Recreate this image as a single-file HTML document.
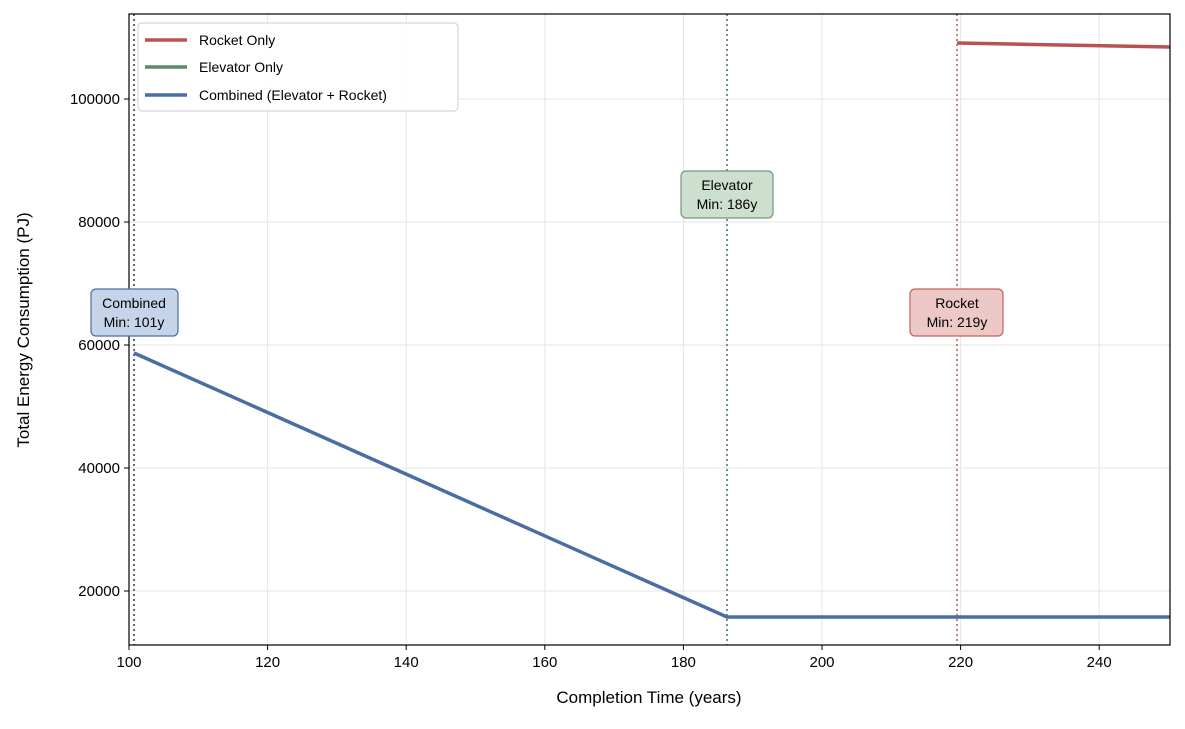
<!DOCTYPE html>
<html><head><meta charset="utf-8"><style>
body{margin:0;background:#fff}
text{font-family:"Liberation Sans","DejaVu Sans",sans-serif}
</style></head><body>
<svg width="1185" height="724" xmlns="http://www.w3.org/2000/svg">
<rect width="1185" height="724" fill="#fff"/>
<g stroke="#e6e6e6" stroke-width="1">
<line x1="129" y1="14" x2="129" y2="645"/><line x1="267.6" y1="14" x2="267.6" y2="645"/><line x1="406.2" y1="14" x2="406.2" y2="645"/><line x1="544.8" y1="14" x2="544.8" y2="645"/><line x1="683.4" y1="14" x2="683.4" y2="645"/><line x1="822" y1="14" x2="822" y2="645"/><line x1="960.6" y1="14" x2="960.6" y2="645"/><line x1="1099.2" y1="14" x2="1099.2" y2="645"/>
<line x1="129" y1="591" x2="1170" y2="591"/><line x1="129" y1="468" x2="1170" y2="468"/><line x1="129" y1="345" x2="1170" y2="345"/><line x1="129" y1="222" x2="1170" y2="222"/><line x1="129" y1="99" x2="1170" y2="99"/>
</g>
<g stroke-width="2" stroke-dasharray="2,3">
<line x1="134" y1="14" x2="134" y2="645" stroke="#5a6a85"/>
<line x1="727" y1="14" x2="727" y2="645" stroke="#6f9a78"/>
<line x1="957" y1="14" x2="957" y2="645" stroke="#c4837f"/>
</g>
<polyline points="134,353 727,617 1170,617" fill="none" stroke="#4a6ea3" stroke-width="3.5"/>
<polyline points="957,43 1060,45 1170,47" fill="none" stroke="#b9524f" stroke-width="3.5"/>
<rect x="129" y="14" width="1041" height="631" fill="none" stroke="#000" stroke-width="1.2"/>
<g stroke="#000"><line x1="129" y1="645" x2="129" y2="650"/><line x1="267.6" y1="645" x2="267.6" y2="650"/><line x1="406.2" y1="645" x2="406.2" y2="650"/><line x1="544.8" y1="645" x2="544.8" y2="650"/><line x1="683.4" y1="645" x2="683.4" y2="650"/><line x1="822" y1="645" x2="822" y2="650"/><line x1="960.6" y1="645" x2="960.6" y2="650"/><line x1="1099.2" y1="645" x2="1099.2" y2="650"/>
<line x1="124" y1="591" x2="129" y2="591"/><line x1="124" y1="468" x2="129" y2="468"/><line x1="124" y1="345" x2="129" y2="345"/><line x1="124" y1="222" x2="129" y2="222"/><line x1="124" y1="99" x2="129" y2="99"/></g>
<g font-size="15" text-anchor="middle" fill="#000">
<text x="129" y="667">100</text><text x="267.6" y="667">120</text><text x="406.2" y="667">140</text><text x="544.8" y="667">160</text><text x="683.4" y="667">180</text><text x="822" y="667">200</text><text x="960.6" y="667">220</text><text x="1099.2" y="667">240</text>
</g>
<g font-size="15" text-anchor="end"><text x="120" y="596">20000</text><text x="120" y="473">40000</text><text x="120" y="350">60000</text><text x="120" y="227">80000</text><text x="120" y="104">100000</text></g>
<text x="649" y="703" font-size="17" text-anchor="middle">Completion Time (years)</text>
<text transform="translate(29,330) rotate(-90)" font-size="17" text-anchor="middle">Total Energy Consumption (PJ)</text>
<rect x="91" y="289" width="87" height="47" rx="5" fill="#c5d4e8" stroke="#4a6ea3" stroke-width="1.2"/>
<text x="134" y="308" font-size="14" text-anchor="middle">Combined</text><text x="134" y="327" font-size="14" text-anchor="middle">Min: 101y</text>
<rect x="681" y="171" width="92" height="47" rx="5" fill="#cddfcf" stroke="#6f9a78" stroke-width="1.2"/>
<text x="727" y="190" font-size="14" text-anchor="middle">Elevator</text><text x="727" y="209" font-size="14" text-anchor="middle">Min: 186y</text>
<rect x="910" y="289" width="93" height="47" rx="5" fill="#ecc8c6" stroke="#c4605c" stroke-width="1.2"/>
<text x="957" y="308" font-size="14" text-anchor="middle">Rocket</text><text x="957" y="327" font-size="14" text-anchor="middle">Min: 219y</text>
<rect x="138" y="23" width="320" height="88" rx="4" fill="#fff" fill-opacity="0.85" stroke="#ccc"/>
<line x1="145" y1="40" x2="187" y2="40" stroke="#b9524f" stroke-width="3.5"/>
<line x1="145" y1="67" x2="187" y2="67" stroke="#5a8a66" stroke-width="3.5"/>
<line x1="145" y1="95" x2="187" y2="95" stroke="#4a6ea3" stroke-width="3.5"/>
<g font-size="14"><text x="199" y="45">Rocket Only</text><text x="199" y="72">Elevator Only</text><text x="199" y="100">Combined (Elevator + Rocket)</text></g>
</svg>
</body></html>
